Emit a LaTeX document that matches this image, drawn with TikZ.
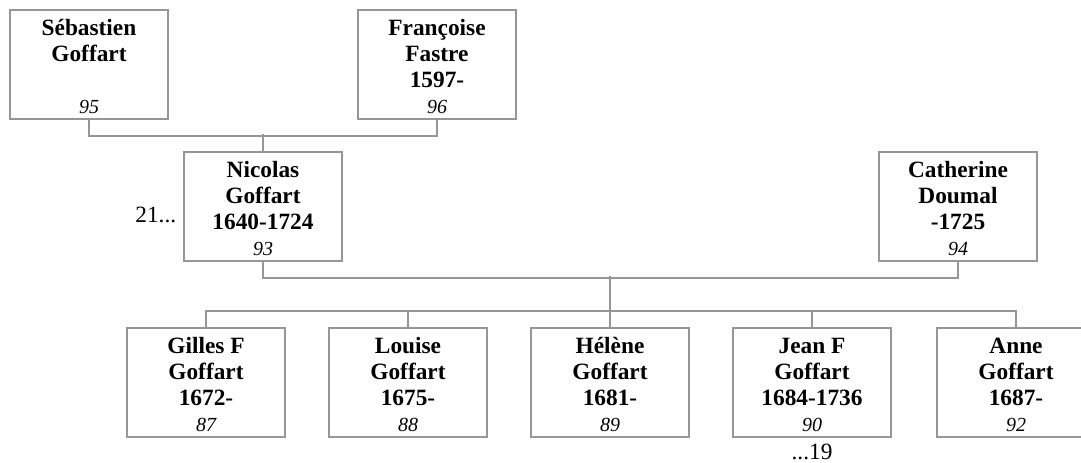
\documentclass[tikz,border=0pt]{standalone}
\usepackage{fontspec}
\setmainfont{Liberation Serif}
\usepackage{tikz}
\usetikzlibrary{positioning}

\definecolor{boxgray}{RGB}{150,150,150}
% one strut per line, so all boxes have the same line positions
\newcommand{\pstrut}{\rule[-2.625pt]{0pt}{19.5pt}}
\newcommand{\pl}[1]{\pstrut\smash{#1}}
\newcommand{\pnum}[1]{{\fontsize{15}{19.5}\selectfont\mdseries\itshape #1}}

\tikzset{
  person/.style={draw=boxgray, line width=1.3pt, fill=white, inner sep=0pt,
    minimum width=118.5pt, minimum height=81.75pt, align=center,
    font=\fontsize{17.5}{19.5}\selectfont\bfseries},
  link/.style={draw=boxgray, line width=1.3pt},
  more/.style={inner sep=0pt, font=\fontsize{17.5}{19.5}\selectfont}
}

\begin{document}
\begin{tikzpicture}[x=0.75pt,y=0.75pt,yscale=-1,xscale=1]
\useasboundingbox (0,0) rectangle (1081,462);

% Grandparents
\node [person] (seb) at (89,64.5) {\pl{Sébastien}\\\pl{Goffart}\\\pl{}\\\pl{\pnum{95}}};
\node [person] (fra) at (437,64.5) {\pl{Françoise}\\\pl{Fastre}\\\pl{1597-}\\\pl{\pnum{96}}};

% Parents
\node [person] (nic) at (263,206.5) {\pl{Nicolas}\\\pl{Goffart}\\\pl{1640-1724}\\\pl{\pnum{93}}};
\node [person] (cat) at (958,206.5) {\pl{Catherine}\\\pl{Doumal}\\\pl{-1725}\\\pl{\pnum{94}}};
\node [more, anchor=east, left=5pt of nic.west, yshift=-6pt] (n21) {21...};

% Children
\node [person] (gil) at (206,382.5) {\pl{Gilles F}\\\pl{Goffart}\\\pl{1672-}\\\pl{\pnum{87}}};
\node [person] (lou) at (408,382.5) {\pl{Louise}\\\pl{Goffart}\\\pl{1675-}\\\pl{\pnum{88}}};
\node [person] (hel) at (610,382.5) {\pl{Hélène}\\\pl{Goffart}\\\pl{1681-}\\\pl{\pnum{89}}};
\node [person] (jea) at (812,382.5) {\pl{Jean F}\\\pl{Goffart}\\\pl{1684-1736}\\\pl{\pnum{90}}};
\node [person] (ann) at (1016,382.5) {\pl{Anne}\\\pl{Goffart}\\\pl{1687-}\\\pl{\pnum{92}}};
\node [more, anchor=base] (n19) at (812,459) {...19};

% Connectors
\draw [link] (seb.south) -- ++(0,16) -| (fra.south);
\draw [link] (nic.north) -- ++(0,-17);
\draw [link] (nic.south) -- ++(0,16) -| (cat.south);
\draw [link] (gil.north) -- ++(0,-16) -| (ann.north);
\draw [link] (lou.north) -- ++(0,-16);
\draw [link] (hel.north) -- ++(0,-51);
\draw [link] (jea.north) -- ++(0,-16);

\end{tikzpicture}
\end{document}
